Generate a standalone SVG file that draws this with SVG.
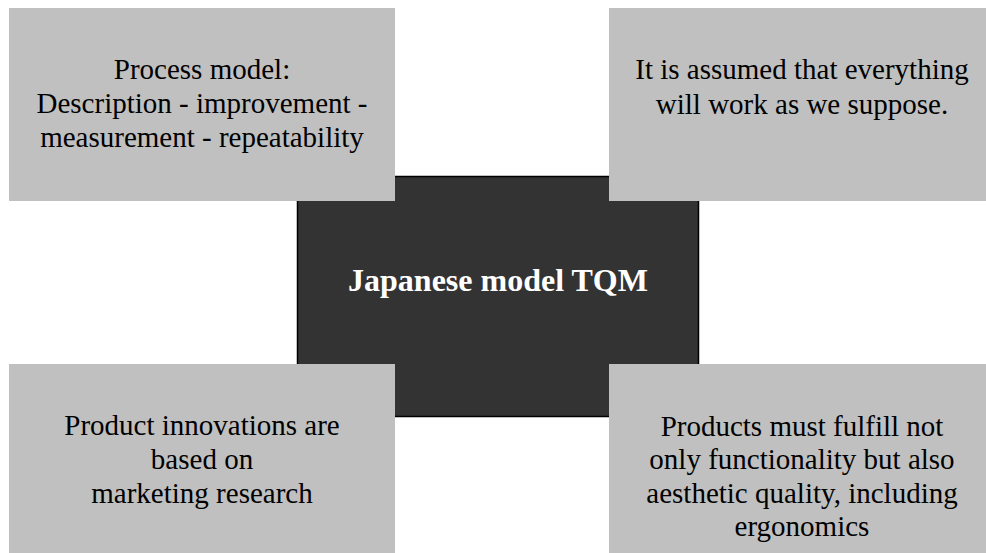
<svg xmlns="http://www.w3.org/2000/svg" width="986" height="553" viewBox="0 0 986 553">
<style>
.box{fill:#c0c0c0}
.t{font-family:"Liberation Serif","Times New Roman",serif;font-size:29px;fill:#000;text-anchor:middle}
.c{font-family:"Liberation Serif","Times New Roman",serif;font-size:32px;font-weight:bold;fill:#fff;text-anchor:middle}
</style>
<rect width="986" height="553" fill="#fff"/>
<g id="connectors"></g>
<g id="center">
<rect x="297.5" y="176.5" width="401" height="240" fill="#333" stroke="#000" stroke-width="1.5"/>
<text class="c" x="498" y="291">Japanese model TQM</text>
</g>
<g id="top-left">
<rect class="box" x="9" y="8" width="386" height="193"/>
<text class="t" x="202" y="79">Process model:</text>
<text class="t" x="202" y="113">Description - improvement -</text>
<text class="t" x="202" y="147">measurement - repeatability</text>
</g>
<g id="top-right">
<rect class="box" x="609" y="8" width="386" height="193"/>
<text class="t" x="802" y="79">It is assumed that everything</text>
<text class="t" x="802" y="114">will work as we suppose.</text>
</g>
<g id="bottom-left">
<rect class="box" x="9" y="364" width="386" height="193"/>
<text class="t" x="202" y="435">Product innovations are</text>
<text class="t" x="202" y="469">based on</text>
<text class="t" x="202" y="503">marketing research</text>
</g>
<g id="bottom-right">
<rect class="box" x="609" y="364" width="386" height="193"/>
<text class="t" x="802" y="436">Products must fulfill not</text>
<text class="t" x="802" y="469">only functionality but also</text>
<text class="t" x="802" y="503">aesthetic quality, including</text>
<text class="t" x="802" y="536">ergonomics</text>
</g>
</svg>
